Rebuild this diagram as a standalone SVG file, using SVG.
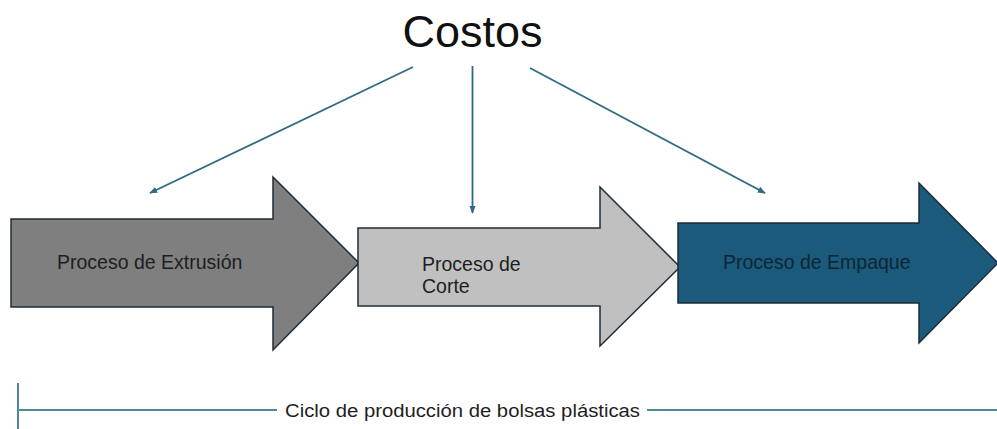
<svg xmlns="http://www.w3.org/2000/svg" width="997" height="429" viewBox="0 0 997 429">
<defs>
<style>
.lbl{font-family:"Liberation Sans",Arial,sans-serif;font-size:19.5px;fill:#1e1e1e}
.title{font-family:"Liberation Sans",Arial,sans-serif;font-size:45px;fill:#111}
.conn{stroke:#2f6b80;stroke-width:1.8;fill:none}
.axis{stroke:#4a8c96;stroke-width:2;fill:none}
.arrow{stroke:#1f2c38;stroke-width:1.5;stroke-linejoin:miter}
</style>
<marker id="ah" viewBox="0 0 10 10" refX="9" refY="5" markerWidth="8" markerHeight="8" orient="auto" markerUnits="userSpaceOnUse">
<path d="M0,1 L10,5 L0,9 Z" fill="#2f6b80"/>
</marker>
</defs>
<rect width="997" height="429" fill="#fff"/>
<g id="costos">
<text class="title" x="472.5" y="47" text-anchor="middle">Costos</text>
</g>
<g id="extrusion">
<polygon class="arrow" fill="#7f7f7f" points="11,219 273,219 273,177 359,263 273,350 273,307 11,307"/>
<text class="lbl" x="57" y="269">Proceso de Extrusión</text>
</g>
<g id="corte">
<polygon class="arrow" fill="#c0c0c0" points="358,228 600,228 600,187 680,267 600,346 600,306 358,306"/>
<text class="lbl" x="422" y="271">Proceso de</text>
<text class="lbl" x="422" y="293">Corte</text>
</g>
<g id="empaque">
<polygon class="arrow" fill="#1b5a7a" points="678,223 919,223 919,183 998,263 919,343 919,303 678,303"/>
<text class="lbl" x="723" y="269" style="fill:#0c2638">Proceso de Empaque</text>
</g>
<g id="connectors">
<line class="conn" x1="413" y1="67" x2="150" y2="193" marker-end="url(#ah)"/>
<line class="conn" x1="472.5" y1="66" x2="472.5" y2="213" marker-end="url(#ah)"/>
<line class="conn" x1="530" y1="68" x2="765" y2="193" marker-end="url(#ah)"/>
</g>
<g id="ciclo">
<line class="axis" x1="18" y1="383" x2="18" y2="429"/>
<line class="axis" x1="18" y1="410" x2="277" y2="410"/>
<line class="axis" x1="647" y1="410" x2="997" y2="410"/>
<text x="285" y="417" font-family="'Liberation Sans',Arial,sans-serif" font-size="18" fill="#1e1e1e" textLength="355" lengthAdjust="spacingAndGlyphs">Ciclo de producción de bolsas plásticas</text>
</g>
</svg>
